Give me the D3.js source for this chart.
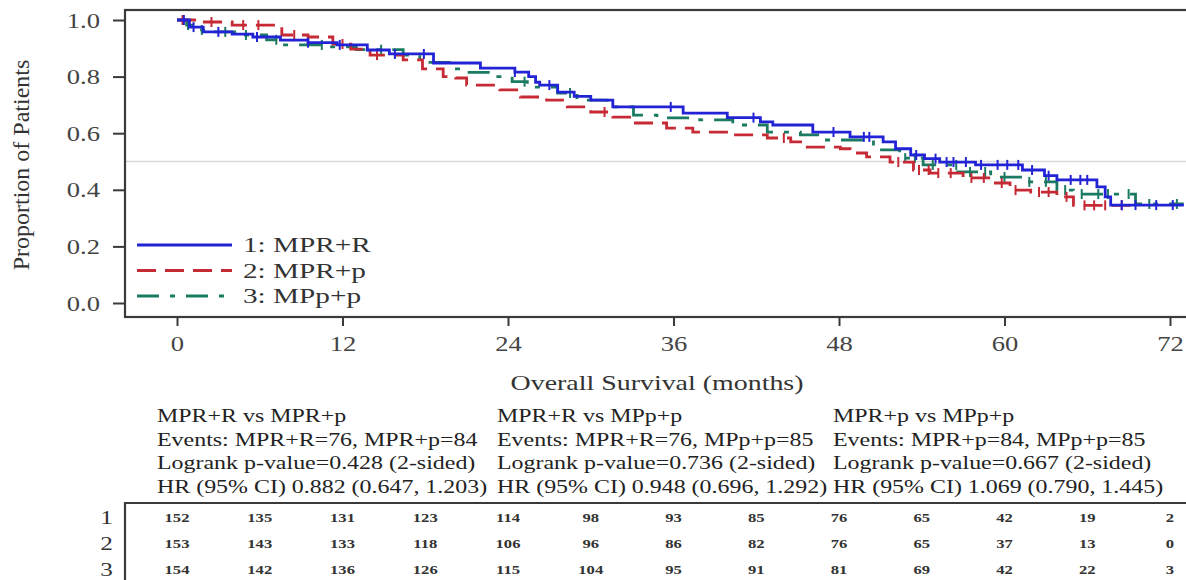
<!DOCTYPE html>
<html>
<head>
<meta charset="utf-8">
<script src="https://cdn.jsdelivr.net/npm/d3@7"></script>
<style>
  body { margin: 0; background: #fff; }
  svg { display: block; }
</style>
</head>
<body>
<svg id="chart" width="1186" height="580"></svg>
<script>
'use strict';

/* Kaplan–Meier steps: [month, proportion] */
const stepsMPRR = [[0,1],[0.9,0.975],[1.9,0.958],[4,0.95],[5.5,0.94],[7.5,0.929],[9.5,0.92],[11.6,0.912],
  [13.8,0.894],[15.4,0.88],[18.6,0.848],[22,0.83],[24.5,0.816],[25.5,0.8],[26,0.78],[26.3,0.77],[27.6,0.745],
  [28.8,0.73],[30,0.717],[31.6,0.693],[36.7,0.671],[39.9,0.655],[42.3,0.64],[43.2,0.629],[46.1,0.604],
  [48.8,0.587],[51.2,0.569],[52.1,0.545],[53.2,0.523],[54.2,0.51],[55.3,0.498],[57.9,0.488],[61.3,0.47],
  [62.9,0.45],[63.8,0.435],[66.7,0.41],[67.3,0.375],[67.7,0.346]];
const stepsMPRp = [[0,1],[1.5,0.993],[4,0.982],[7.6,0.947],[9.5,0.94],[11.3,0.915],[12.6,0.897],[14,0.876],
  [16.4,0.859],[17.8,0.827],[19.3,0.8],[20.2,0.795],[21,0.77],[23.4,0.753],[24.9,0.728],[26.8,0.717],
  [28.3,0.693],[30,0.675],[31.6,0.657],[33.1,0.636],[35.5,0.618],[37.4,0.604],[40.3,0.594],[42.8,0.583],
  [44.5,0.569],[45.7,0.551],[48.1,0.545],[48.8,0.53],[50,0.516],[51.7,0.498],[53.4,0.47],[54.6,0.459],
  [57,0.442],[59,0.424],[60.4,0.399],[61.9,0.392],[63.8,0.375],[65,0.345]];
const stepsMPpp = [[0,1],[0.7,0.982],[1.5,0.965],[2.4,0.958],[4.3,0.947],[6.5,0.93],[7.5,0.912],[11,0.905],
  [13,0.895],[16.4,0.876],[17.6,0.85],[20,0.827],[21,0.815],[22.7,0.8],[24.3,0.782],[25.4,0.763],[27.6,0.742],
  [29,0.717],[31.2,0.693],[33.1,0.664],[34.8,0.654],[37.9,0.647],[40.3,0.629],[42.8,0.604],[45.2,0.594],
  [46.8,0.576],[50.5,0.541],[52.4,0.512],[54.1,0.488],[56.6,0.463],[59,0.445],[61.3,0.428],[63.8,0.399],
  [65,0.385],[69.5,0.35]];
const lastMPRR = 73, lastMPRp = 69.5, lastMPpp = 73;

/* censored observations (months) */
const censMPRR = [0.5,1.2,3,5.8,9.5,11.8,15.8,17.9,24.5,27,35.8,41.8,47.6,49.8,50.2,53.6,55,55.8,56.3,57.2,
  58.3,59.5,60.2,61,62,63.2,64.8,65.5,66,68.5,69.5,71,72.2];
const censMPRp = [0.4,2.5,4.8,5.9,8.5,12,14.5,31,44,52.3,53.8,54.5,55.2,56.1,57.6,58.5,59.8,60.8,62.5,63.2,
  64.5,65.8,66.5,67.3,68.5];
const censMPpp = [0.8,1.8,3.5,5,7.2,10.5,14.8,25.2,28.5,52.8,53.5,54.8,56.5,57.5,58.6,60,61.8,63,64.4,65.6,
  66.8,67.5,69,70.5,72.5];

const seriesNames = ['1: MPR+R', '2: MPR+p', '3: MPp+p'];
const xTicks = [0, 12, 24, 36, 48, 60, 72];
const yTicks = [0, 0.2, 0.4, 0.6, 0.8, 1.0];

/* number at risk, every 6 months */
const riskMonths = [0, 6, 12, 18, 24, 30, 36, 42, 48, 54, 60, 66, 72];
const riskMPRR = [152, 135, 131, 123, 114, 98, 93, 85, 76, 65, 42, 19, 2];
const riskMPRp = [153, 143, 133, 118, 106, 96, 86, 82, 76, 65, 37, 13, 0];
const riskMPpp = [154, 142, 136, 126, 115, 104, 95, 91, 81, 69, 42, 22, 3];

const compTitles = ['MPR+R vs MPR+p', 'MPR+R vs MPp+p', 'MPR+p vs MPp+p'];
const compEvents = ['Events: MPR+R=76, MPR+p=84', 'Events: MPR+R=76, MPp+p=85', 'Events: MPR+p=84, MPp+p=85'];
const compLogrank = ['Logrank p-value=0.428 (2-sided)', 'Logrank p-value=0.736 (2-sided)', 'Logrank p-value=0.667 (2-sided)'];
const compHR = ['HR (95% CI) 0.882 (0.647, 1.203)', 'HR (95% CI) 0.948 (0.696, 1.292)', 'HR (95% CI) 1.069 (0.790, 1.445)'];

/* ---- drawing ---- */
const FONT = '"Liberation Serif", "Times New Roman", serif';
const SX = 1.33;                     // the source picture is stretched sideways
const colors = ['#2323d6', '#c62a35', '#1b7a62'];
const dashes = [null, '19,9', '22,11,5,11'];

const svg = d3.select('#chart');
const x = d3.scaleLinear().domain([0, 72]).range([177, 1170]);
const y = d3.scaleLinear().domain([0, 1]).range([303, 20]);
const frame = { l: 125, t: 10, r: 1192, b: 317 };

const txt = (g, px, py, s, size, anchor = 'start', extra = {}) => {
  const t = g.append('text')
    .attr('transform', `translate(${px},${py}) scale(${SX},1)`)
    .attr('text-anchor', anchor)
    .style('font-family', FONT).style('font-size', size + 'px')
    .style('fill', extra.fill || '#2a2a2a')
    .text(s);
  if (extra.bold) t.style('font-weight', 'bold');
  return t;
};

/* reference line at 0.5 */
svg.append('line')
  .attr('x1', frame.l).attr('x2', frame.r).attr('y1', y(0.5)).attr('y2', y(0.5))
  .attr('stroke', '#d8d8d8').attr('stroke-width', 1.5);

/* frame */
svg.append('rect')
  .attr('x', frame.l).attr('y', frame.t)
  .attr('width', frame.r - frame.l).attr('height', frame.b - frame.t)
  .attr('fill', 'none').attr('stroke', '#3a3a3a').attr('stroke-width', 2.2);

/* axes */
const gx = svg.append('g').attr('transform', `translate(0,${frame.b})`)
  .call(d3.axisBottom(x).tickValues(xTicks).tickSize(9).tickSizeOuter(0));
gx.select('.domain').remove();
gx.selectAll('line').attr('stroke', '#3a3a3a').attr('stroke-width', 2);
gx.selectAll('text')
  .attr('y', 0).attr('dy', 0)
  .attr('transform', `translate(0,34) scale(${SX},1)`)
  .style('font-family', FONT).style('font-size', '20px').style('fill', '#444');

const gy = svg.append('g').attr('transform', `translate(${frame.l},0)`)
  .call(d3.axisLeft(y).tickValues(yTicks).tickFormat(d3.format('.1f')).tickSize(12).tickSizeOuter(0));
gy.select('.domain').remove();
gy.selectAll('line').attr('stroke', '#3a3a3a').attr('stroke-width', 2);
gy.selectAll('text')
  .attr('x', 0).attr('dy', 0)
  .attr('transform', `translate(-25,7) scale(${SX},1)`)
  .style('font-family', FONT).style('font-size', '20px').style('fill', '#444');

/* axis titles */
txt(svg, 657, 390, 'Overall Survival (months)', 21, 'middle', { fill: '#333' });
svg.append('text')
  .attr('transform', 'translate(29,165) rotate(-90)')
  .attr('text-anchor', 'middle')
  .style('font-family', FONT).style('font-size', '24px').style('fill', '#333')
  .text('Proportion of Patients');

/* curves */
const line = d3.line().x(d => x(d[0])).y(d => y(d[1])).curve(d3.curveStepAfter);
const allSteps = [stepsMPRR, stepsMPRp, stepsMPpp];
const lastT = [lastMPRR, lastMPRp, lastMPpp];
const allCens = [censMPRR, censMPRp, censMPpp];
const survAt = (steps, t) => steps[Math.max(0, d3.bisector(d => d[0]).right(steps, t) - 1)][1];

const order = [2, 1, 0];
order.forEach(i => {
  const steps = allSteps[i];
  const pts = steps.concat([[lastT[i], steps[steps.length - 1][1]]]);
  svg.append('path').datum(pts)
    .attr('d', line)
    .attr('fill', 'none')
    .attr('stroke', colors[i])
    .attr('stroke-width', 2.8)
    .attr('stroke-dasharray', dashes[i]);
  svg.append('g').selectAll('line').data(allCens[i]).join('line')
    .attr('x1', d => x(d)).attr('x2', d => x(d))
    .attr('y1', d => y(survAt(steps, d)) - 5).attr('y2', d => y(survAt(steps, d)) + 5)
    .attr('stroke', colors[i]).attr('stroke-width', 2);
});

/* legend */
const lg = svg.append('g');
seriesNames.forEach((name, i) => {
  const ly = 245 + i * 25.5;
  lg.append('line')
    .attr('x1', 137).attr('x2', 232).attr('y1', ly).attr('y2', ly)
    .attr('stroke', colors[i]).attr('stroke-width', 2.8)
    .attr('stroke-dasharray', dashes[i]);
  txt(lg, 243, ly + 7, name, 22, 'start', { fill: '#333' });
});

/* comparison text blocks */
const blockX = [157, 497, 833];
const hg = svg.append('g');
blockX.forEach((bx, i) => {
  [compTitles[i], compEvents[i], compLogrank[i], compHR[i]].forEach((s, k) => {
    txt(hg, bx, 422 + k * 23.7, s, 18, 'start', { fill: '#222' });
  });
});

/* at-risk table */
svg.append('path')
  .attr('d', `M${frame.l},580 V503 H${frame.r}`)
  .attr('fill', 'none').attr('stroke', '#3a3a3a').attr('stroke-width', 2.2);
const risk = [riskMPRR, riskMPRp, riskMPpp];
const tg = svg.append('g');
risk.forEach((row, i) => {
  const ry = 523 + i * 26;
  txt(tg, 113, ry + 1, String(i + 1), 19, 'end', { fill: '#333' });
  row.forEach((v, j) => {
    txt(tg, x(riskMonths[j]), ry - 1, String(v), 12.5, 'middle', { fill: '#333', bold: true });
  });
});
</script>
</body>
</html>
